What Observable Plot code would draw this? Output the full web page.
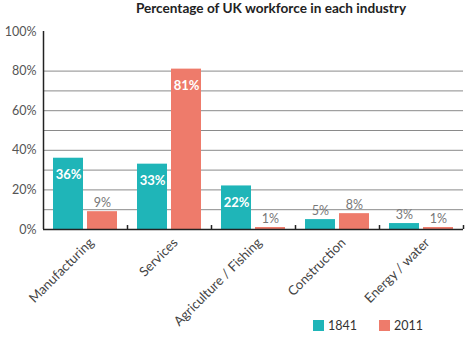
<!DOCTYPE html>
<html><head><meta charset="utf-8">
<script src="https://cdn.jsdelivr.net/npm/d3@7"></script>
<script src="https://cdn.jsdelivr.net/npm/@observablehq/plot@0.6"></script>
<style>
body{margin:0;background:#fff;font-family:Lato,"Open Sans",sans-serif;}
#wrap{position:relative;width:468px;height:337px;overflow:hidden;background:#fff}
#title{position:absolute;top:0px;left:0;width:468px;padding-left:74px;box-sizing:border-box;text-align:center;font-weight:bold;font-size:13.6px;color:#222;}
#chart{position:absolute;top:0;left:0}
#legend{position:absolute;top:318px;left:313px;font-size:12.5px;color:#333;display:flex;gap:0}
.item{display:flex;align-items:center;margin-right:22px}
.sw{width:11px;height:11px;margin-right:4px}
</style></head>
<body><div id="wrap"><div id="chart"></div><div id="title">Percentage of UK workforce in each industry</div><div id="legend"></div></div>
<script>
const categories = ["Manufacturing","Services","Agriculture / Fishing","Construction","Energy / water"];
const years = ["1841","2011"];
const values1841 = [36,33,22,5,3];
const values2011 = [9,81,1,8,1];
const yTicks = [0,20,40,60,80,100];
const gridLines = [10,20,30,40,50,60,70,80];
const colors = ["#1fb5b8","#ee7b6b"];

const data = categories.flatMap((c,i)=>[
  {cat:c,year:years[0],value:values1841[i]},
  {cat:c,year:years[1],value:values2011[i]}
]);
const big = data.filter(d=>d.value>=15);
const small = data.filter(d=>d.value<15);
const fmt = d=>d.value+"%";

const chart = Plot.plot({
  width:468,height:337,marginLeft:43,marginRight:5,marginTop:31,marginBottom:108,
  style:{fontFamily:"Lato, 'Open Sans', sans-serif",fontSize:"12.5px",background:"transparent",color:"#555"},
  fx:{domain:categories,padding:0,label:null},
  x:{domain:years,paddingInner:4/34,paddingOuter:10/34,axis:null},
  y:{domain:[0,100],axis:null},
  color:{domain:years,range:colors},
  marks:[
    Plot.ruleY(gridLines,{stroke:"#8a8a8a",strokeWidth:1}),
    Plot.barY(data,{fx:"cat",x:"year",y:"value",fill:"year"}),
    Plot.text(big,{fx:"cat",x:"year",y:"value",text:fmt,dy:17,fill:"white",fontSize:13,fontWeight:"bold"}),
    Plot.text(small,{fx:"cat",x:"year",y:"value",text:fmt,dy:-9,fill:"#777",fontSize:12.5}),
    Plot.ruleY([0],{stroke:"#222",strokeWidth:1.5}),
    Plot.ruleX(categories,{fx:d=>d,x:()=>years[1],dx:25,y1:0,y2:2,stroke:"#222",strokeWidth:1.5}),
    Plot.ruleX([categories[0]],{fx:d=>d,x:()=>years[0],dx:-25,y1:0,y2:100,stroke:"#222",strokeWidth:1.5}),
    Plot.axisY({ticks:yTicks,tickFormat:d=>d+"%",tickSize:0,tickPadding:7,label:null,fill:"#555"}),
    Plot.axisFx({anchor:"bottom",tickRotate:-45,tickSize:0,tickPadding:11,dx:6,label:null,fill:"#444",fontSize:13.2})
  ]
});
document.getElementById("chart").appendChild(chart);

const legend = document.getElementById("legend");
years.forEach((y,i)=>{
  const it = document.createElement("div"); it.className="item";
  const sw = document.createElement("div"); sw.className="sw"; sw.style.background=colors[i];
  const t = document.createElement("span"); t.textContent=y;
  it.appendChild(sw); it.appendChild(t); legend.appendChild(it);
});
</script></body></html>
